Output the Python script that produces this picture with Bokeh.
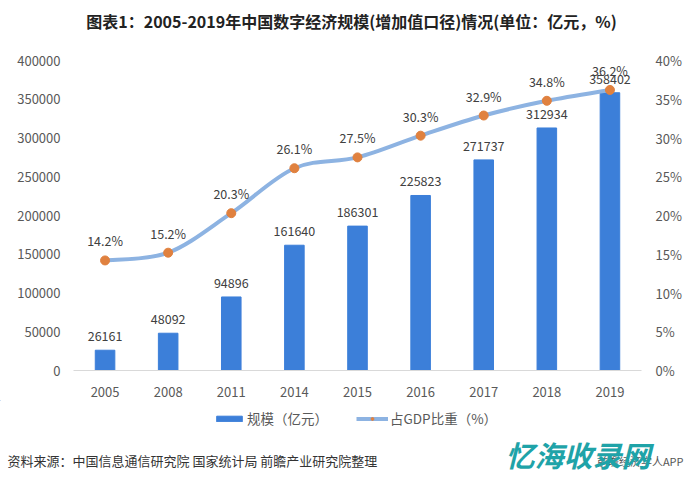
from bokeh.plotting import figure
from bokeh.layouts import column
from bokeh.models import (Range1d, LinearAxis, NumeralTickFormatter, Label, Legend,
                          LegendItem, ColumnDataSource, FixedTicker)
from bokeh.core.properties import value
from bokeh.embed import file_html
from bokeh.resources import INLINE

years = ["2005", "2008", "2011", "2014", "2015", "2016", "2017", "2018", "2019"]
scale = [26161, 48092, 94896, 161640, 186301, 225823, 271737, 312934, 358402]
share = [14.2, 15.2, 20.3, 26.1, 27.5, 30.3, 32.9, 34.8, 36.2]

FONT = "Noto Sans CJK SC"
BAR = "#3c7fd9"
LINE = "#8db3e2"
MARK = "#e0813f"
TICK = "#595959"
W = 684


def blank(h):
    f = figure(width=W, height=h, output_backend="svg", toolbar_location=None,
               x_range=Range1d(0, W), y_range=Range1d(h, 0),
               min_border_left=0, min_border_right=0, min_border_top=0, min_border_bottom=0,
               x_axis_location=None, y_axis_location=None)
    f.frame_align = False
    f.outline_line_color = None
    f.grid.visible = False
    return f


# header with title
h = blank(40)
h.add_layout(Label(x=351, y=20, text="图表1：2005-2019年中国数字经济规模(增加值口径)情况(单位：亿元，%)",
                   text_font=FONT, text_font_size="16px", text_font_style="bold",
                   text_color="#222222", text_align="center", text_baseline="middle"))

xs = list(range(len(years)))
frac = [v / 100 for v in share]

p = figure(width=W, height=360, output_backend="svg", toolbar_location=None,
           x_range=Range1d(-0.5, len(years) - 0.5), y_range=Range1d(0, 400000),
           min_border_left=73, min_border_right=35, min_border_top=20, min_border_bottom=30)
p.frame_align = False
p.extra_y_ranges = {"pct": Range1d(0, 0.4)}
p.outline_line_color = None
p.grid.visible = False

# axes
p.xaxis.ticker = FixedTicker(ticks=xs)
p.xaxis.major_label_overrides = {i: y for i, y in enumerate(years)}
p.yaxis.ticker = FixedTicker(ticks=list(range(0, 400001, 50000)))
p.yaxis.formatter = NumeralTickFormatter(format="0")
for ax in (p.xaxis, p.yaxis):
    ax.major_tick_line_color = None
    ax.minor_tick_line_color = None
    ax.major_label_text_font = FONT
    ax.major_label_text_font_size = "13px"
    ax.major_label_text_color = TICK
p.yaxis.axis_line_color = None
p.xaxis.axis_line_color = "#d9d9d9"
p.xaxis.major_label_standoff = 10
p.yaxis.major_label_standoff = 7

rax = LinearAxis(y_range_name="pct", ticker=FixedTicker(ticks=[i * 0.05 for i in range(9)]),
                 formatter=NumeralTickFormatter(format="0%"))
rax.axis_line_color = None
rax.major_tick_line_color = None
rax.minor_tick_line_color = None
rax.major_label_text_font = FONT
rax.major_label_text_font_size = "13px"
rax.major_label_text_color = TICK
rax.major_label_standoff = 8
p.add_layout(rax, "right")

# bars
src = ColumnDataSource(dict(x=xs, y=scale, lab=[str(v) for v in scale],
                            f=frac, plab=[f"{v:.1f}%" for v in share]))
p.vbar(x="x", top="y", width=0.31, color=BAR, source=src)
p.text(x="x", y="y", text="lab", source=src, text_align="center", text_baseline="bottom",
       y_offset=-9, text_font=value(FONT), text_font_size="12.5px", text_color="#404040")

# smooth line (Catmull-Rom bezier through the data points)
n = len(xs)
x0, y0, x1, y1, cx0, cy0, cx1, cy1 = [], [], [], [], [], [], [], []
for i in range(n - 1):
    pm = i - 1 if i > 0 else i
    pp = i + 2 if i + 2 < n else i + 1
    x0.append(xs[i]); y0.append(frac[i])
    x1.append(xs[i + 1]); y1.append(frac[i + 1])
    cx0.append(xs[i] + (xs[i + 1] - xs[pm]) / 6)
    cy0.append(frac[i] + (frac[i + 1] - frac[pm]) / 6)
    cx1.append(xs[i + 1] - (xs[pp] - xs[i]) / 6)
    cy1.append(frac[i + 1] - (frac[pp] - frac[i]) / 6)
p.bezier(x0=x0, y0=y0, x1=x1, y1=y1, cx0=cx0, cy0=cy0, cx1=cx1, cy1=cy1,
         line_color=LINE, line_width=4, y_range_name="pct")
p.scatter(x="x", y="f", source=src, size=9, fill_color=MARK, line_color=MARK,
          y_range_name="pct")
p.text(x="x", y="f", text="plab", source=src, text_align="center", text_baseline="bottom",
       y_offset=-10, text_font=value(FONT), text_font_size="12.5px", text_color="#404040",
       y_range_name="pct")

# footer: legend, source, watermark
q = blank(70)
off = [-1000]
lg_bar = q.vbar(x=off, top=off, width=1, color=BAR)
lg_line = q.line(x=off, y=off, line_color=LINE, line_width=4)
lg_mark = q.scatter(x=off, y=off, size=8, fill_color=MARK, line_color=MARK)
legend = Legend(items=[LegendItem(label="规模（亿元）", renderers=[lg_bar]),
                       LegendItem(label="占GDP比重（%）", renderers=[lg_line, lg_mark])],
                orientation="horizontal", location=(213, 42), border_line_color=None,
                background_fill_alpha=0, label_text_font=FONT, label_text_font_size="13.5px",
                label_text_color=TICK, glyph_width=32, glyph_height=7, spacing=28,
                label_standoff=2, padding=0, margin=0)
q.add_layout(legend, "center")

q.add_layout(Label(x=7, y=60, text="资料来源：中国信息通信研究院 国家统计局 前瞻产业研究院整理",
                   text_font=FONT, text_font_size="13px", text_color="#333333",
                   text_baseline="middle"))
q.add_layout(Label(x=683, y=60, text="前瞻经济学人APP", text_font=FONT, text_font_size="11px",
                   text_color="#555555", text_baseline="middle", text_align="right"))
q.add_layout(Label(x=505, y=53, text="忆海收录网", text_font=FONT, text_font_size="29px",
                   text_font_style="bold italic", text_color="#1fa3a8", text_baseline="middle"))

open("out.html", "w").write(file_html(column(h, p, q, spacing=0), INLINE))
